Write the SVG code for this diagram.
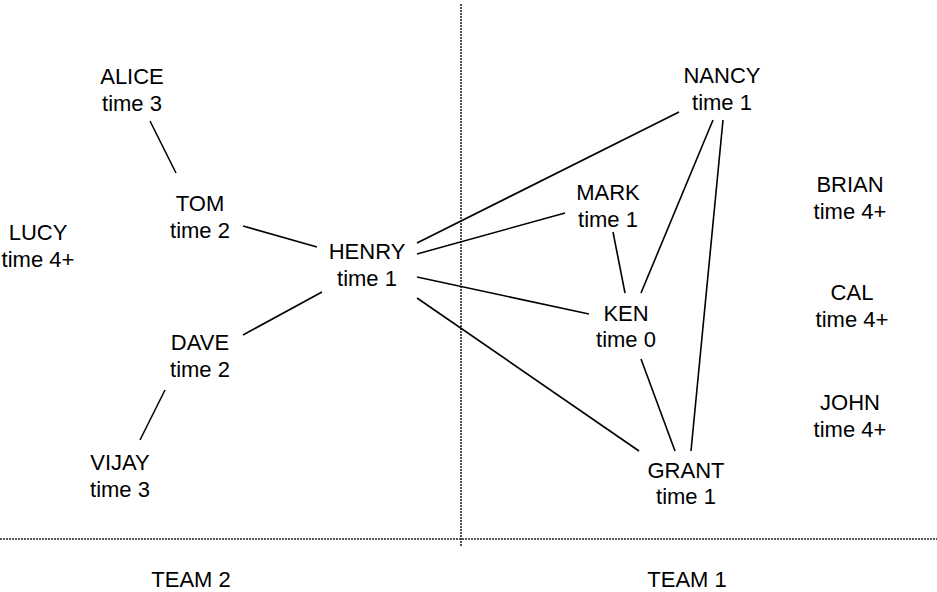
<svg xmlns="http://www.w3.org/2000/svg" width="937" height="592" viewBox="0 0 937 592">
<style>
text{font-family:"Liberation Sans",Arial,sans-serif;font-size:22px;fill:#000;text-anchor:middle}
.e{stroke:#000;stroke-width:1.6;fill:none}
.d{stroke:#222;stroke-width:1.6;stroke-dasharray:2 1;fill:none}
</style>
<rect width="937" height="592" fill="#fff"/>
<g id="dividers">
<line class="d" x1="461" y1="4" x2="461" y2="547"/>
<line class="d" x1="0" y1="539" x2="937" y2="539"/>
</g>
<g id="connectors">
<line class="e" x1="150" y1="121" x2="176" y2="173"/>
<line class="e" x1="243" y1="226" x2="317" y2="247"/>
<line class="e" x1="243" y1="335" x2="322" y2="292"/>
<line class="e" x1="165" y1="390" x2="140" y2="440"/>
<line class="e" x1="417" y1="243" x2="679" y2="112"/>
<line class="e" x1="417" y1="254" x2="565" y2="213"/>
<line class="e" x1="417" y1="277" x2="589" y2="314"/>
<line class="e" x1="417" y1="298" x2="639" y2="451"/>
<line class="e" x1="613" y1="232" x2="625" y2="293"/>
<line class="e" x1="713" y1="120" x2="641" y2="293"/>
<line class="e" x1="723" y1="120" x2="691" y2="451"/>
<line class="e" x1="641" y1="359" x2="675" y2="451"/>
</g>
<g id="alice"><text x="132" y="84">ALICE</text><text x="132" y="111">time 3</text></g>
<g id="tom"><text x="200" y="211">TOM</text><text x="200" y="238">time 2</text></g>
<g id="lucy"><text x="38" y="240">LUCY</text><text x="38" y="267">time 4+</text></g>
<g id="henry"><text x="367" y="259">HENRY</text><text x="367" y="286">time 1</text></g>
<g id="dave"><text x="200" y="350">DAVE</text><text x="200" y="377">time 2</text></g>
<g id="vijay"><text x="120" y="470">VIJAY</text><text x="120" y="497">time 3</text></g>
<g id="nancy"><text x="722" y="83">NANCY</text><text x="722" y="110">time 1</text></g>
<g id="mark"><text x="608" y="200">MARK</text><text x="608" y="227">time 1</text></g>
<g id="brian"><text x="850" y="192">BRIAN</text><text x="850" y="219">time 4+</text></g>
<g id="cal"><text x="852" y="300">CAL</text><text x="852" y="327">time 4+</text></g>
<g id="ken"><text x="626" y="321">KEN</text><text x="626" y="347">time 0</text></g>
<g id="john"><text x="850" y="410">JOHN</text><text x="850" y="437">time 4+</text></g>
<g id="grant"><text x="686" y="478">GRANT</text><text x="686" y="504">time 1</text></g>
<g id="team2"><text x="191" y="587">TEAM 2</text></g>
<g id="team1"><text x="687" y="587">TEAM 1</text></g>
</svg>
